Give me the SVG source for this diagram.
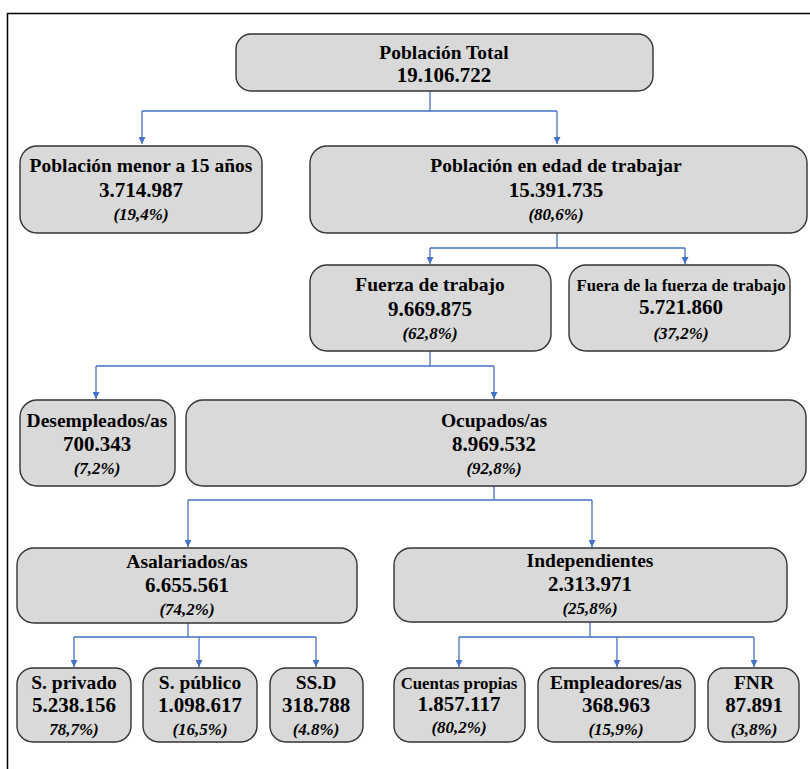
<svg xmlns="http://www.w3.org/2000/svg" width="810" height="769" viewBox="0 0 810 769">
<defs>
<marker id="ah" viewBox="0 0 10 10" refX="10" refY="5" markerWidth="7" markerHeight="7" markerUnits="userSpaceOnUse" orient="auto">
<path d="M0,0 L10,5 L0,10 z" fill="#4472C4"/>
</marker>
</defs>
<style>
.box{fill:#d9d9d9;stroke:#333;stroke-width:1.4}
.t{font-family:"Liberation Serif","Times New Roman",serif;font-weight:bold;fill:#000;text-anchor:middle}
.h{font-size:19.5px}
.n{font-size:21px}
.p{font-size:17px;font-style:italic}
.s{font-size:16.8px}
.c{fill:none;stroke:#4472C4;stroke-width:1.3}
.a{fill:none;stroke:#4472C4;stroke-width:1.3;marker-end:url(#ah)}
.frame{fill:none;stroke:#000;stroke-width:1.5}
</style>
<rect width="810" height="769" fill="#fff"/>
<path class="frame" d="M7.5,769 V13.5 H812"/>
<g id="connectors">
<path class="c" d="M430,91 V111 M142,111 H557"/>
<path class="a" d="M142,111 V144"/>
<path class="a" d="M557,111 V144"/>
<path class="c" d="M557,233 V248 M430,248 H685"/>
<path class="a" d="M430,248 V264"/>
<path class="a" d="M685,248 V264"/>
<path class="c" d="M430,351 V366 M96,366 H494"/>
<path class="a" d="M96,366 V399"/>
<path class="a" d="M494,366 V399"/>
<path class="c" d="M494,486 V500 M188,500 H592"/>
<path class="a" d="M188,500 V547"/>
<path class="a" d="M592,500 V547"/>
<path class="c" d="M188,623 V637 M74,637 H316"/>
<path class="a" d="M74,637 V667"/>
<path class="a" d="M199,637 V667"/>
<path class="a" d="M316,637 V667"/>
<path class="c" d="M590,622 V637 M459,637 H754"/>
<path class="a" d="M459,637 V667"/>
<path class="a" d="M617,637 V667"/>
<path class="a" d="M754,637 V667"/>
</g>
<g id="total">
<rect class="box" x="236" y="34" width="417" height="57" rx="15"/>
<text class="t h" x="444" y="59">Población Total</text>
<text class="t n" x="444" y="82">19.106.722</text>
</g>
<g id="menor15">
<rect class="box" x="20" y="146" width="242" height="87" rx="17"/>
<text class="t h" x="141" y="172">Población menor a 15 años</text>
<text class="t n" x="141" y="197">3.714.987</text>
<text class="t p" x="141" y="220">(19,4%)</text>
</g>
<g id="edad">
<rect class="box" x="310" y="146" width="497" height="87" rx="17"/>
<text class="t h" x="556" y="172">Población en edad de trabajar</text>
<text class="t n" x="556" y="197">15.391.735</text>
<text class="t p" x="556" y="220">(80,6%)</text>
</g>
<g id="fuerza">
<rect class="box" x="310" y="265" width="241" height="86" rx="17"/>
<text class="t h" x="430" y="291">Fuerza de trabajo</text>
<text class="t n" x="430" y="316">9.669.875</text>
<text class="t p" x="430" y="339">(62,8%)</text>
</g>
<g id="fuera">
<rect class="box" x="569" y="265" width="221" height="86" rx="17"/>
<text class="t s" x="681" y="291">Fuera de la fuerza de trabajo</text>
<text class="t n" x="681" y="314">5.721.860</text>
<text class="t p" x="681" y="339">(37,2%)</text>
</g>
<g id="desempleados">
<rect class="box" x="20" y="400" width="155" height="86" rx="17"/>
<text class="t h" x="97" y="427">Desempleados/as</text>
<text class="t n" x="97" y="451">700.343</text>
<text class="t p" x="97" y="474">(7,2%)</text>
</g>
<g id="ocupados">
<rect class="box" x="186" y="400" width="620" height="86" rx="17"/>
<text class="t h" x="494" y="427">Ocupados/as</text>
<text class="t n" x="494" y="451">8.969.532</text>
<text class="t p" x="494" y="474">(92,8%)</text>
</g>
<g id="asalariados">
<rect class="box" x="17" y="548" width="340" height="75" rx="17"/>
<text class="t h" x="187" y="568">Asalariados/as</text>
<text class="t n" x="187" y="592">6.655.561</text>
<text class="t p" x="187" y="615">(74,2%)</text>
</g>
<g id="independientes">
<rect class="box" x="394" y="548" width="393" height="74" rx="17"/>
<text class="t h" x="590" y="567">Independientes</text>
<text class="t n" x="590" y="591">2.313.971</text>
<text class="t p" x="590" y="614">(25,8%)</text>
</g>
<g id="privado">
<rect class="box" x="17" y="668" width="114" height="74" rx="16"/>
<text class="t h" x="74" y="689">S. privado</text>
<text class="t n" x="74" y="712">5.238.156</text>
<text class="t p" x="74" y="735">78,7%)</text>
</g>
<g id="publico">
<rect class="box" x="143" y="668" width="114" height="74" rx="16"/>
<text class="t h" x="200" y="689">S. público</text>
<text class="t n" x="200" y="712">1.098.617</text>
<text class="t p" x="200" y="735">(16,5%)</text>
</g>
<g id="ssd">
<rect class="box" x="270" y="668" width="93" height="74" rx="16"/>
<text class="t h" x="316" y="689">SS.D</text>
<text class="t n" x="316" y="712">318.788</text>
<text class="t p" x="316" y="735">(4.8%)</text>
</g>
<g id="cuentas">
<rect class="box" x="394" y="668" width="131" height="74" rx="16"/>
<text class="t s" x="459" y="689">Cuentas propias</text>
<text class="t n" x="459" y="711">1.857.117</text>
<text class="t p" x="459" y="733">(80,2%)</text>
</g>
<g id="empleadores">
<rect class="box" x="538" y="668" width="157" height="74" rx="16"/>
<text class="t h" x="616" y="689">Empleadores/as</text>
<text class="t n" x="616" y="712">368.963</text>
<text class="t p" x="616" y="735">(15,9%)</text>
</g>
<g id="fnr">
<rect class="box" x="708" y="668" width="91" height="74" rx="16"/>
<text class="t h" x="754" y="689">FNR</text>
<text class="t n" x="754" y="712">87.891</text>
<text class="t p" x="754" y="735">(3,8%)</text>
</g>
</svg>
